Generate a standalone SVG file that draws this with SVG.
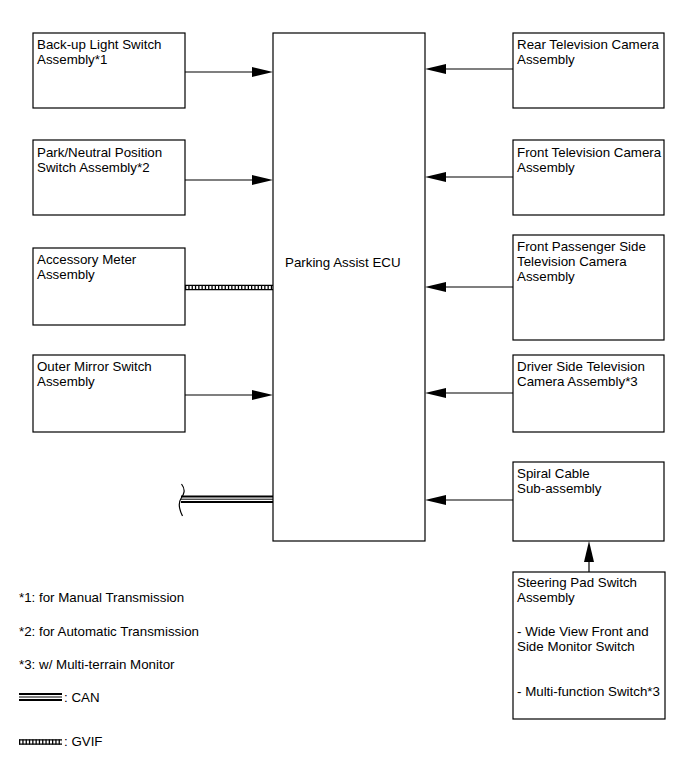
<svg xmlns="http://www.w3.org/2000/svg" width="691" height="757" viewBox="0 0 691 757">
<style>
.box{fill:#fff;stroke:#000;stroke-width:1.2}
text{font-family:"Liberation Sans",Arial,sans-serif;font-size:13.33px;fill:#000}
.ln{stroke:#000;stroke-width:1.2;fill:none}
.ah{fill:#000}
</style>
<rect width="691" height="757" fill="#fff"/>
<g id="connectors">
  <line class="ln" x1="185" y1="72" x2="255" y2="72"/><polygon class="ah" points="273,72 252,67 252,77"/>
  <line class="ln" x1="185" y1="180" x2="255" y2="180"/><polygon class="ah" points="273,180 252,175 252,185"/>
  <line class="ln" x1="185" y1="395" x2="255" y2="395"/><polygon class="ah" points="273,395 252,390 252,400"/>
  <g id="gvif">
    <line x1="185" y1="287.5" x2="273" y2="287.5" stroke="#000" stroke-width="5" stroke-dasharray="1.3 2"/>
    <line class="ln" x1="185" y1="285.3" x2="273" y2="285.3"/>
    <line class="ln" x1="185" y1="289.7" x2="273" y2="289.7"/>
  </g>
  <g id="can">
    <line x1="181" y1="496.5" x2="273" y2="496.5" stroke="#000" stroke-width="2"/>
    <line x1="181" y1="499.2" x2="273" y2="499.2" stroke="#000" stroke-width="1"/>
    <line x1="181" y1="502" x2="273" y2="502" stroke="#000" stroke-width="2"/>
    <path class="ln" d="M181.5,484 C186,490 184,494 181,498.5 C178,503 179,509 182.5,516"/>
  </g>
  <line class="ln" x1="513" y1="69" x2="443" y2="69"/><polygon class="ah" points="425,69 446,64 446,74"/>
  <line class="ln" x1="513" y1="177" x2="443" y2="177"/><polygon class="ah" points="425,177 446,172 446,182"/>
  <line class="ln" x1="513" y1="287" x2="443" y2="287"/><polygon class="ah" points="425,287 446,282 446,292"/>
  <line class="ln" x1="513" y1="393" x2="443" y2="393"/><polygon class="ah" points="425,393 446,388 446,398"/>
  <line class="ln" x1="513" y1="500" x2="443" y2="500"/><polygon class="ah" points="425,500 446,495 446,505"/>
  <line class="ln" x1="589" y1="572" x2="589" y2="558"/><polygon class="ah" points="589,541 584,562 594,562"/>
</g>
<g id="ecu"><rect class="box" x="273" y="33" width="152" height="508"/><text x="285" y="267">Parking Assist ECU</text></g>
<g id="backup"><rect class="box" x="33" y="33" width="152" height="75"/><text x="37" y="49">Back-up Light Switch</text><text x="37" y="64">Assembly*1</text></g>
<g id="parkneutral"><rect class="box" x="33" y="140" width="152" height="75"/><text x="37" y="157">Park/Neutral Position</text><text x="37" y="172">Switch Assembly*2</text></g>
<g id="meter"><rect class="box" x="33" y="248" width="152" height="77"/><text x="37" y="264">Accessory Meter</text><text x="37" y="279">Assembly</text></g>
<g id="mirror"><rect class="box" x="33" y="355" width="152" height="77"/><text x="37" y="371">Outer Mirror Switch</text><text x="37" y="386">Assembly</text></g>
<g id="rearcam"><rect class="box" x="513" y="33" width="151" height="75"/><text x="517" y="49">Rear Television Camera</text><text x="517" y="64">Assembly</text></g>
<g id="frontcam"><rect class="box" x="513" y="140" width="151" height="75"/><text x="517" y="157">Front Television Camera</text><text x="517" y="172">Assembly</text></g>
<g id="passcam"><rect class="box" x="513" y="235" width="151" height="105"/><text x="517" y="251">Front Passenger Side</text><text x="517" y="266">Television Camera</text><text x="517" y="281">Assembly</text></g>
<g id="drivercam"><rect class="box" x="513" y="355" width="151" height="77"/><text x="517" y="371">Driver Side Television</text><text x="517" y="386">Camera Assembly*3</text></g>
<g id="spiral"><rect class="box" x="513" y="462" width="151" height="79"/><text x="517" y="478">Spiral Cable</text><text x="517" y="493">Sub-assembly</text></g>
<g id="steering"><rect class="box" x="513" y="572" width="152" height="147"/><text x="517" y="587">Steering Pad Switch</text><text x="517" y="602">Assembly</text><text x="517" y="636">- Wide View Front and</text><text x="517" y="651">Side Monitor Switch</text><text x="517" y="696">- Multi-function Switch*3</text></g>
<g id="legend">
  <text x="19" y="602">*1: for Manual Transmission</text>
  <text x="19" y="636">*2: for Automatic Transmission</text>
  <text x="19" y="669">*3: w/ Multi-terrain Monitor</text>
  <line x1="19" y1="694" x2="62" y2="694" stroke="#000" stroke-width="2"/>
  <line x1="19" y1="697" x2="62" y2="697" stroke="#000" stroke-width="1"/>
  <line x1="19" y1="700" x2="62" y2="700" stroke="#000" stroke-width="2"/>
  <text x="64" y="702">: CAN</text>
  <line x1="19" y1="742" x2="62" y2="742" stroke="#000" stroke-width="5" stroke-dasharray="1.3 2"/>
  <line class="ln" x1="19" y1="739.8" x2="62" y2="739.8"/>
  <line class="ln" x1="19" y1="744.2" x2="62" y2="744.2"/>
  <text x="64" y="746">: GVIF</text>
</g>
</svg>
